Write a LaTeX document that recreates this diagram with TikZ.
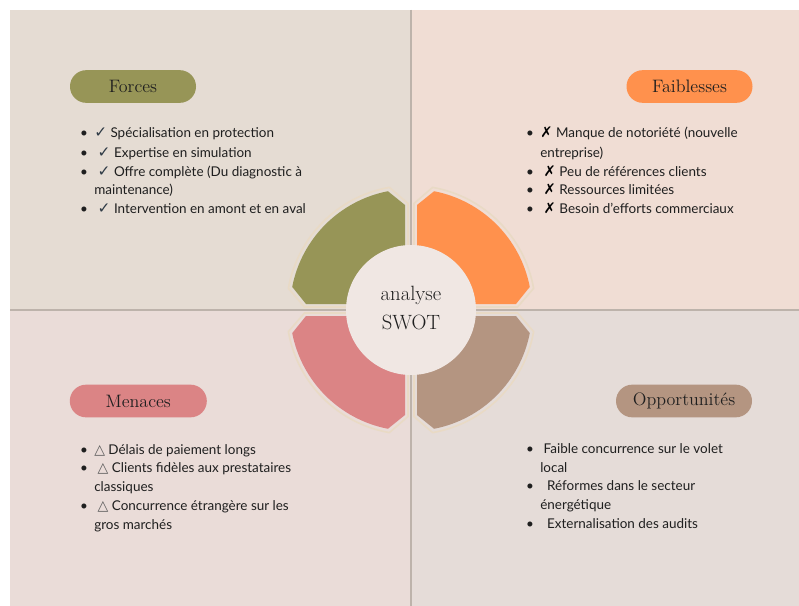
\documentclass[tikz,border=0pt]{standalone}
\usepackage{fontspec}
\newfontfamily\bodyfont{Lato}
\newfontfamily\glyphfont{DejaVu Sans}

\definecolor{bgTL}{HTML}{E5DCD3}
\definecolor{bgTR}{HTML}{F0DDD4}
\definecolor{bgBL}{HTML}{EADCD8}
\definecolor{bgBR}{HTML}{E5DCD8}
\definecolor{rule}{HTML}{BDB3AB}
\definecolor{cOlive}{HTML}{979557}
\definecolor{cOrange}{HTML}{FF914D}
\definecolor{cPink}{HTML}{DB8485}
\definecolor{cBrown}{HTML}{B49581}
\definecolor{cCore}{HTML}{F0E7E3}
\definecolor{cEdge}{HTML}{E9DAC5}
\definecolor{ink}{HTML}{1F1F1F}
\definecolor{slate}{HTML}{2E3A45}
\definecolor{triGrey}{HTML}{5A5A5A}

% bullet box and list glyphs
\newcommand{\swotbl}{\makebox[11.25pt][l]{\hspace{0.6pt}\textbullet}}
\newcommand{\swotgap}{\hspace*{11.25pt}}
\newcommand{\swotchk}{{\glyphfont\fontsize{11.5}{12}\selectfont\color{slate}✓}}
\newcommand{\swotx}{{\glyphfont\fontsize{11}{12}\selectfont\color{black}✗}}
\newcommand{\swottri}{{\glyphfont\fontsize{10.5}{12}\selectfont\color{triGrey}△}}

\tikzset{
  divider/.style={draw=rule, line width=1.1pt},
  segline/.style={draw=cEdge, line width=1.2pt},
  pill/.style={minimum height=24.5pt, rounded corners=12.2pt, inner sep=0pt,
               text=ink, font=\fontsize{13.5}{15}\selectfont},
  core/.style={circle, fill=cCore, minimum size=97.5pt, inner sep=0pt},
  coretxt/.style={anchor=base, inner sep=0pt, text=ink, font=\fontsize{15.5}{18}\selectfont},
  ln/.style={anchor=base west, inner sep=0pt, text=ink, font=\bodyfont\fontsize{10.1}{12}\selectfont},
}

\begin{document}
\begin{tikzpicture}[x=0.75pt,y=-0.75pt]
\useasboundingbox (0,0) rectangle (799,606);
\fill[white] (0,0) rectangle (799,606);

% quadrant backgrounds
\fill[bgTL] (10,10) rectangle (411,310);
\fill[bgTR] (411,10) rectangle (799,310);
\fill[bgBL] (10,310) rectangle (411,606);
\fill[bgBR] (411,310) rectangle (799,606);

% dividing rules
\draw[divider] (411,10) -- (411,606);
\draw[divider] (10,310) -- (799,310);

% four ring segments, mirrored into each quadrant
\foreach \sx/\sy/\col in {-1/-1/cOlive, 1/-1/cOrange, -1/1/cPink, 1/1/cBrown}{
  \begin{scope}[shift={(411,310)}, xscale=\sx, yscale=\sy]
    \draw[segline] (3,3) -- (3,106.5) -- (80:124.5)
      arc[start angle=80, end angle=10, radius=124.5] -- (106.5,3) -- cycle;
    \fill[\col] (6,6) -- (6,105) -- (79:121)
      arc[start angle=79, end angle=11, radius=121] -- (105,6) -- cycle;
  \end{scope}
}

% centre disc
\node[core] (core) at (411,310) {};
\node[coretxt] (an) at (411,300) {analyse};
\node[coretxt] (sw) at (411,329) {SWOT};

% headings
\node[pill, fill=cOlive, minimum width=94.5pt] (forces) at (133,86.5) {Forces};
\node[pill, fill=cOrange, minimum width=94.5pt] (faib) at (689.5,86.5) {Faiblesses};
\node[pill, fill=cPink, minimum width=102.75pt] (men) at (138.3,401) {Menaces};
\node[pill, fill=cBrown, minimum width=102pt] (opp) at (684,401) {Opportunités};

% Forces
\node[ln] (f1) at (79,138) {\swotbl\swotchk{} Spécialisation en protection};
\node[ln] (f2) at (79,157) {\swotbl\ \swotchk{} Expertise en simulation};
\node[ln] (f3) at (79,176) {\swotbl\ \swotchk{} Offre complète (Du diagnostic à};
\node[ln] (f4) at (79,195) {\swotgap maintenance)};
\node[ln] (f5) at (79,214) {\swotbl\ \swotchk{} Intervention en amont et en aval};

% Faiblesses
\node[ln] (w1) at (525,138) {\swotbl\swotx{} Manque de notoriété (nouvelle};
\node[ln] (w2) at (525,157) {\swotgap entreprise)};
\node[ln] (w3) at (525,176) {\swotbl\ \swotx{} Peu de références clients};
\node[ln] (w4) at (525,195) {\swotbl\ \swotx{} Ressources limitées};
\node[ln] (w5) at (525,214) {\swotbl\ \swotx{} Besoin d’efforts commerciaux};

% Menaces
\node[ln] (m1) at (79,454) {\swotbl\swottri{} Délais de paiement longs};
\node[ln] (m2) at (79,472.5) {\swotbl\ \swottri{} Clients fidèles aux prestataires};
\node[ln] (m3) at (79,491.5) {\swotgap classiques};
\node[ln] (m4) at (79,510) {\swotbl\ \swottri{} Concurrence étrangère sur les};
\node[ln] (m5) at (79,529) {\swotgap gros marchés};

% Opportunités
\node[ln] (o1) at (525,453) {\swotbl\ Faible concurrence sur le volet};
\node[ln] (o2) at (525,472) {\swotgap local};
\node[ln] (o3) at (525,490.7) {\swotbl\ \ Réformes dans le secteur};
\node[ln] (o4) at (525,509) {\swotgap énergétique};
\node[ln] (o5) at (525,528) {\swotbl\ \ Externalisation des audits};
\end{tikzpicture}
\end{document}
